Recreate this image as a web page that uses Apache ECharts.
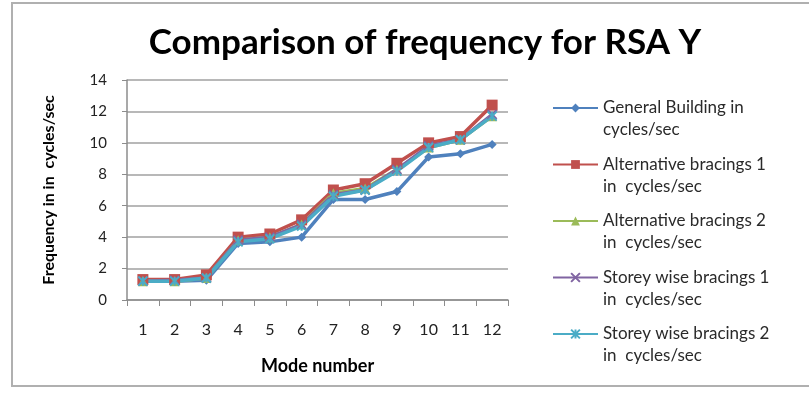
<!DOCTYPE html>
<html><head><meta charset="utf-8">
<script src="https://cdn.jsdelivr.net/npm/echarts@6/dist/echarts.min.js"></script>
<style>html,body{margin:0;padding:0;background:#fff}#c{width:809px;height:396px}</style>
</head><body><div id="c"></div>
<script>
const modes = ['1','2','3','4','5','6','7','8','9','10','11','12'];
const generalBuilding = [1.2,1.2,1.25,3.6,3.7,4.0,6.4,6.4,6.9,9.1,9.3,9.9];
const altBracings1 = [1.3,1.3,1.6,4.0,4.2,5.1,7.0,7.4,8.7,10.0,10.4,12.4];
const altBracings2 = [1.2,1.2,1.4,3.8,4.0,4.8,6.8,7.1,8.3,9.7,10.2,11.7];
const storeyBracings1 = [1.2,1.25,1.4,3.8,4.0,4.8,6.7,7.0,8.3,9.8,10.2,11.8];
const storeyBracings2 = [1.2,1.2,1.4,3.7,3.9,4.7,6.6,7.0,8.2,9.7,10.2,11.7];
const seriesNames = ['General Building in\ncycles/sec','Alternative bracings 1\nin  cycles/sec','Alternative bracings 2\nin  cycles/sec','Storey wise bracings 1\nin  cycles/sec','Storey wise bracings 2\nin  cycles/sec'];
const colors = ['#4F81BD','#C0504D','#9BBB59','#8064A2','#4BACC6'];
const symbols = ['diamond','rect','triangle','path://M0,0L10,10M10,0L0,10','path://M0,0L10,10M10,0L0,10M5,0L5,10'];
const symbolSizes = [9,11,10,9,9];
const values = [generalBuilding, altBracings1, altBracings2, storeyBracings1, storeyBracings2];
const FONT = 'Lato, "Open Sans", sans-serif';
const chart = echarts.init(document.getElementById('c'));
chart.setOption({
  animation:false,
  title:{text:'Comparison of frequency for RSA Y', left:420, top:20, textAlign:'center',
    textStyle:{fontFamily:FONT, fontSize:35, fontWeight:'bold', color:'#000'}},
  graphic:[{type:'rect', shape:{x:12,y:3,width:820,height:383}, style:{fill:'none', stroke:'#b0b0b0', lineWidth:2}, silent:true}],
  legend:{orient:'vertical', left:547, top:70, itemWidth:45, itemHeight:11, itemGap:-9.5,
    formatter: n => ' \n' + n,
    textStyle:{fontFamily:FONT, fontSize:17, lineHeight:22, color:'#2a2a2a'},
    data:seriesNames.map(n=>({name:n}))},
  grid:{left:127, right:301, top:80, bottom:96},
  xAxis:{type:'category', data:modes, boundaryGap:true,
    name:'Mode number', nameLocation:'middle', nameGap:57,
    nameTextStyle:{fontFamily:FONT, fontSize:18, fontWeight:'bold', color:'#000'},
    axisLine:{lineStyle:{color:'#8c8c8c', width:1.5}},
    axisTick:{show:true, length:6, lineStyle:{color:'#8c8c8c'}},
    axisLabel:{fontFamily:FONT, fontSize:16, color:'#222', margin:22}},
  yAxis:{type:'value', min:0, max:14, interval:2,
    name:'Frequency in in  cycles/sec', nameLocation:'middle', nameGap:70, nameRotate:90,
    nameTextStyle:{fontFamily:FONT, fontSize:16, fontWeight:'bold', color:'#000'},
    axisLine:{show:true, lineStyle:{color:'#8c8c8c', width:1.5}},
    axisTick:{show:true, length:5, lineStyle:{color:'#8c8c8c'}},
    splitLine:{lineStyle:{color:'#a0a0a0', width:1.5}},
    axisLabel:{fontFamily:FONT, fontSize:15, color:'#222', margin:20}},
  series: values.map((v,i)=>({
    name:seriesNames[i], type:'line', data:v, color:colors[i],
    symbol:symbols[i], symbolSize:symbolSizes[i], showAllSymbol:true,
    lineStyle:{width:3.5, color:colors[i]},
    itemStyle:{color:colors[i], borderColor:colors[i], borderWidth: i>=3?2:0}
  }))
});
</script></body></html>
